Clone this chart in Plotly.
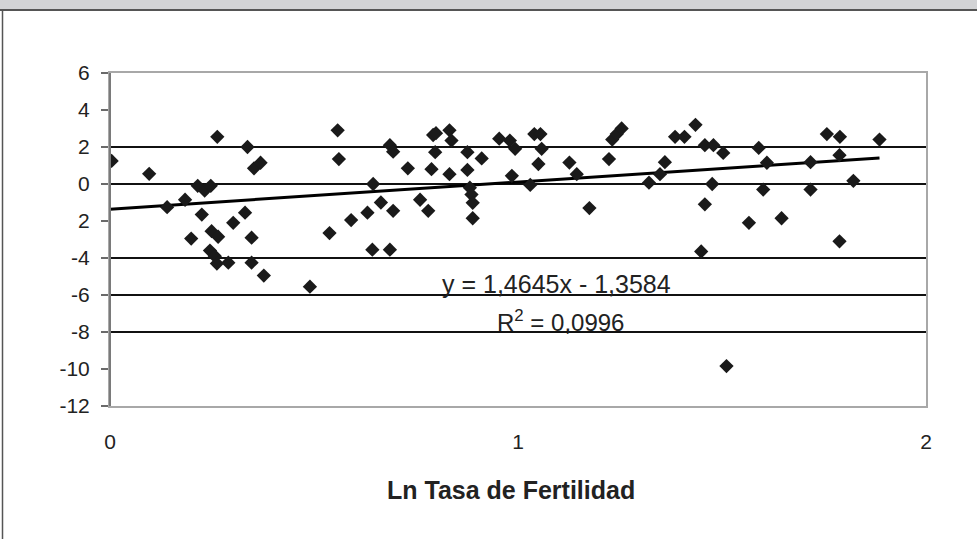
import plotly.graph_objects as go

# Data (x = Ln Tasa de Fertilidad)
x_vals = [0.004, 0.096, 0.140, 0.184, 0.199, 0.215, 0.232, 0.247, 0.225, 0.249,
          0.265, 0.245, 0.257, 0.262, 0.290, 0.263, 0.302, 0.331, 0.337, 0.347,
          0.347, 0.353, 0.369, 0.377, 0.490, 0.538, 0.558, 0.561, 0.591, 0.631,
          0.643, 0.645, 0.664, 0.686, 0.686, 0.694, 0.694, 0.730, 0.760, 0.780,
          0.788, 0.792, 0.797, 0.799, 0.832, 0.832, 0.837, 0.876, 0.876, 0.882,
          0.886, 0.889, 0.889, 0.911, 0.954, 0.980, 0.985, 0.993, 1.030, 1.040,
          1.055, 1.050, 1.058, 1.126, 1.144, 1.175, 1.223, 1.231, 1.242, 1.254,
          1.321, 1.348, 1.360, 1.385, 1.408, 1.435, 1.449, 1.458, 1.458, 1.476,
          1.479, 1.503, 1.511, 1.566, 1.590, 1.601, 1.610, 1.646, 1.717, 1.717,
          1.757, 1.788, 1.789, 1.788, 1.822, 1.886]
y_vals = [1.25, 0.55, -1.25, -0.85, -2.95, -0.10, -0.35, -0.10, -1.65, -2.55,
          -2.85, -3.60, -3.90, -4.30, -4.25, 2.55, -2.10, -1.55, 2.00, -2.90,
          -4.25, 0.85, 1.15, -4.95, -5.55, -2.65, 2.90, 1.35, -1.95, -1.55,
          -3.55, 0.00, -1.00, -3.55, 2.10, 1.75, -1.45, 0.85, -0.85, -1.45,
          0.80, 2.65, 1.72, 2.75, 2.90, 0.53, 2.35, 1.72, 0.76, -0.20,
          -0.57, -1.02, -1.85, 1.38, 2.45, 2.35, 0.44, 1.90, -0.05, 2.70,
          2.70, 1.08, 1.90, 1.16, 0.53, -1.30, 1.35, 2.40, 2.70, 3.00,
          0.07, 0.53, 1.18, 2.55, 2.55, 3.20, -3.65, 2.10, -1.10, 0.00,
          2.10, 1.68, -9.84, -2.10, 1.95, -0.30, 1.15, -1.85, 1.18, -0.30,
          2.70, 1.56, 2.55, -3.10, 0.17, 2.40]

slope = 1.4645
intercept = -1.3584
r2_text = "R<sup>2</sup> = 0,0996"
eq_text = "y = 1,4645x - 1,3584"

y_tickvals = [6, 4, 2, 0, -2, -4, -6, -8, -10, -12]
y_ticktext = ["6", "4", "2", "0", "2", "-4", "-6", "-8", "-10", "-12"]
x_tickvals = [0, 1, 2]
x_ticktext = ["0", "1", "2"]
gridline_values = [2, 0, -4, -6, -8]
x_title = "Ln Tasa de Fertilidad"

W, H = 977, 539
L, R, T, B = 110, 51, 73, 133
PW, PH = W - L - R, H - T - B


def px_x(p):
    return (p - L) / PW


def px_y(p):
    return 1 - (p - T) / PH


fig = go.Figure()

x_line = [0, max(x_vals)]
y_line = [slope * v + intercept for v in x_line]
fig.add_trace(go.Scatter(x=x_line, y=y_line, mode="lines",
                         line=dict(color="black", width=3),
                         hoverinfo="skip", showlegend=False))

fig.add_trace(go.Scatter(x=x_vals, y=y_vals, mode="markers",
                         marker=dict(symbol="diamond", size=11, color="#1a1a1a"),
                         showlegend=False))

shapes = []
for g in gridline_values:
    shapes.append(dict(type="line", xref="paper", yref="y", x0=0, x1=1, y0=g, y1=g,
                       line=dict(color="#111111", width=2), layer="below"))
# page frame elements
shapes.append(dict(type="rect", xref="paper", yref="paper",
                   x0=px_x(0), x1=px_x(W), y0=px_y(9), y1=px_y(0),
                   fillcolor="#d2d3d5", line=dict(width=0)))
shapes.append(dict(type="line", xref="paper", yref="paper",
                   x0=px_x(0), x1=px_x(W), y0=px_y(10), y1=px_y(10),
                   line=dict(color="#555555", width=2)))
shapes.append(dict(type="line", xref="paper", yref="paper",
                   x0=px_x(2.5), x1=px_x(2.5), y0=px_y(H), y1=px_y(10),
                   line=dict(color="#555555", width=1.5)))
# darker left axis line
shapes.append(dict(type="line", xref="paper", yref="paper",
                   x0=0, x1=0, y0=0, y1=1,
                   line=dict(color="#7a7a7a", width=2)))

fig.update_layout(
    width=W, height=H,
    margin=dict(l=L, r=R, t=T, b=B, pad=0),
    paper_bgcolor="white", plot_bgcolor="white",
    font=dict(family="Liberation Sans, Arial, sans-serif", color="#222222"),
    shapes=shapes,
    showlegend=False,
    annotations=[
        dict(text=eq_text, xref="paper", yref="paper", x=px_x(556), y=px_y(284),
             showarrow=False, font=dict(size=25, color="#222222"),
             xanchor="center", yanchor="middle"),
        dict(text=r2_text, xref="paper", yref="paper", x=px_x(560), y=px_y(321),
             showarrow=False, font=dict(size=24, color="#222222"),
             xanchor="center", yanchor="middle"),
        dict(text="<b>" + x_title + "</b>", xref="paper", yref="paper",
             x=px_x(511), y=px_y(490), showarrow=False,
             font=dict(size=25, color="#222222"),
             xanchor="center", yanchor="middle"),
    ],
)

fig.update_xaxes(range=[0, 2], tickvals=x_tickvals, ticktext=x_ticktext,
                 showgrid=False, zeroline=False, showline=True, mirror=True,
                 linecolor="#a8a8a8", linewidth=2, ticks="",
                 ticklabelstandoff=16,
                 tickfont=dict(size=21, color="#222222"))
fig.update_yaxes(range=[-12, 6], tickvals=y_tickvals, ticktext=y_ticktext,
                 showgrid=False, zeroline=False, showline=True, mirror=True,
                 linecolor="#a8a8a8", linewidth=2, ticks="outside",
                 ticklen=7, tickcolor="#6a6a6a", tickwidth=2,
                 ticklabelstandoff=7,
                 tickfont=dict(size=21, color="#222222"))

fig.write_html("out.html")
